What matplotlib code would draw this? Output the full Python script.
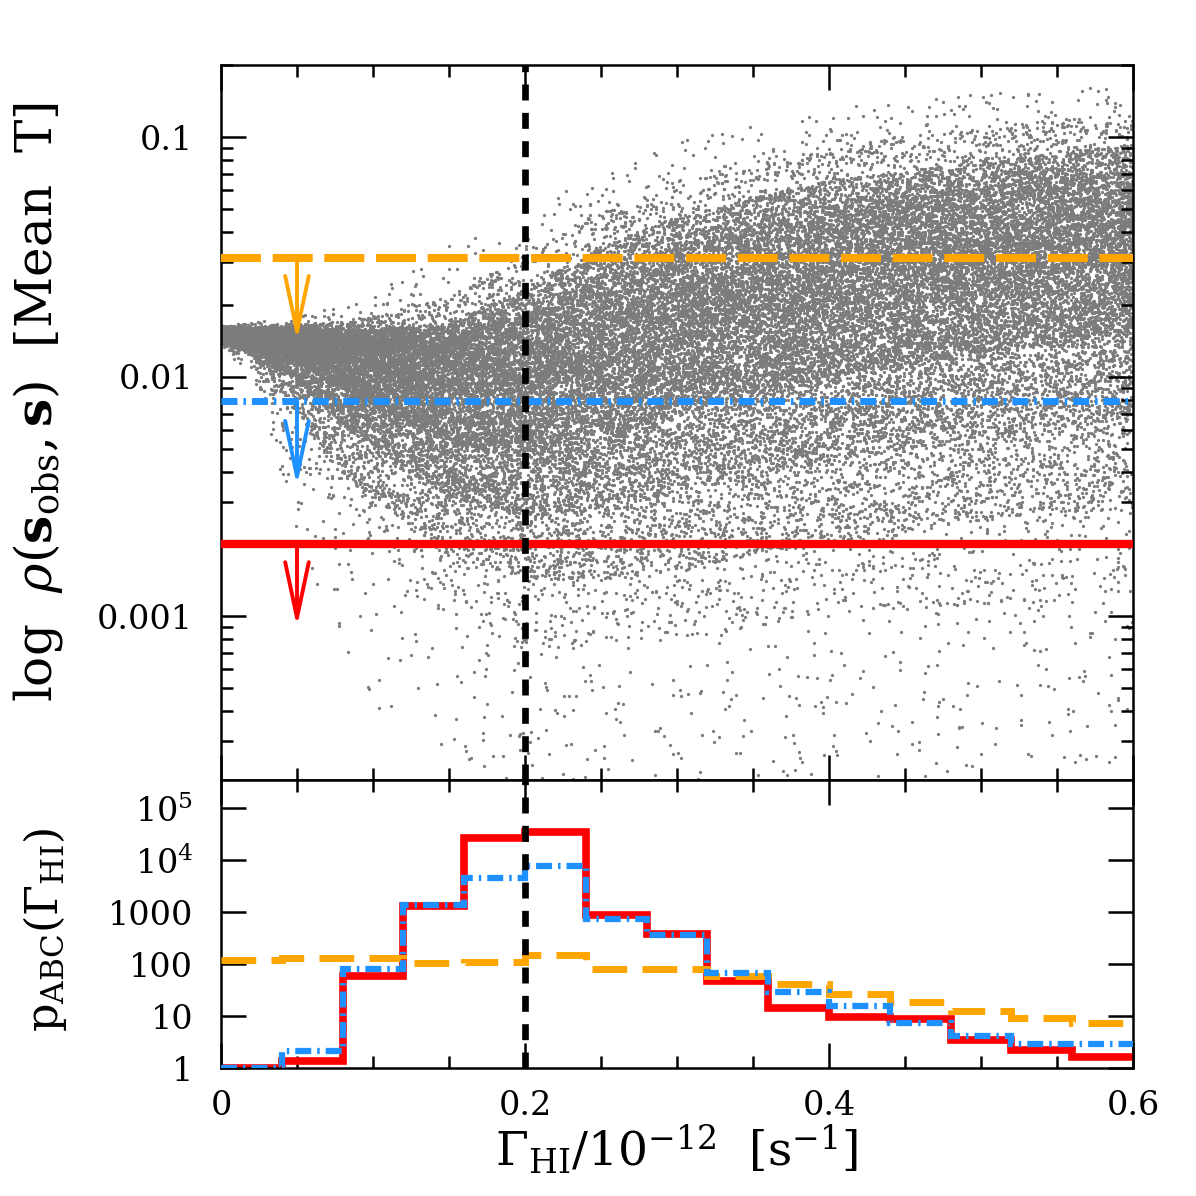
import numpy as np
import matplotlib
matplotlib.use("Agg")
import matplotlib.pyplot as plt
from matplotlib.ticker import FixedLocator, FixedFormatter, LogLocator, MultipleLocator, NullFormatter

plt.rcParams['font.family'] = 'DejaVu Serif'
plt.rcParams['mathtext.fontset'] = 'dejavuserif'
plt.rcParams['lines.scale_dashes'] = False

# ---- bottom panel: ABC posteriors, bins of 0.04 in Gamma_HI
bin_edges = [0.0, 0.04, 0.08, 0.12, 0.16, 0.20, 0.24, 0.28, 0.32, 0.36,
             0.40, 0.44, 0.48, 0.52, 0.56, 0.60]
p_red = [1.0, 1.35, 60, 1320, 26300, 34600, 870, 386, 48, 14,
         9.7, 8.7, 3.4, 2.2, 1.6]
p_blue = [1.0, 2.16, 79, 1380, 4520, 7600, 740, 357, 67, 29,
          15.6, 7.5, 4.2, 2.9, 2.9]
p_orange = [120, 133, 130, 107, 110, 147, 80, 79, 59, 41,
            27, 19, 12.7, 9.3, 7.2]

# ---- top panel: distance thresholds and arrows
eps_orange = 0.0313
eps_blue = 0.0079
eps_red = 0.002
arrow_x = 0.05
tip_orange = 0.0141
tip_blue = 0.0035
tip_red = 0.0009
gamma_true = 0.2

# ---- cloud of simulated distances: log10(rho) quantiles read per Gamma_HI column
cloud_x = [0.0, 0.02, 0.05, 0.08, 0.10, 0.15, 0.20, 0.25, 0.30, 0.40, 0.50, 0.60]
cloud_p = [0.0, 0.01, 0.03, 0.10, 0.25, 0.50, 0.75, 0.90, 0.97, 0.995, 1.0]
cloud_q = [
    [-1.87, -1.865, -1.86, -1.85, -1.838, -1.824, -1.81, -1.80, -1.795, -1.79, -1.785],
    [-2.00, -1.93, -1.90, -1.875, -1.855, -1.836, -1.818, -1.805, -1.795, -1.785, -1.775],
    [-2.70, -2.35, -2.15, -2.02, -1.94, -1.875, -1.835, -1.81, -1.795, -1.78, -1.75],
    [-3.10, -2.60, -2.40, -2.20, -2.05, -1.94, -1.86, -1.82, -1.80, -1.77, -1.70],
    [-3.40, -2.75, -2.50, -2.30, -2.12, -1.98, -1.88, -1.83, -1.80, -1.75, -1.66],
    [-3.60, -3.00, -2.75, -2.50, -2.28, -2.07, -1.92, -1.84, -1.78, -1.66, -1.45],
    [-3.72, -3.15, -2.85, -2.58, -2.33, -2.08, -1.88, -1.74, -1.63, -1.48, -1.30],
    [-3.72, -3.15, -2.85, -2.55, -2.25, -1.97, -1.74, -1.57, -1.45, -1.30, -1.15],
    [-3.72, -3.10, -2.80, -2.48, -2.15, -1.86, -1.62, -1.45, -1.33, -1.18, -1.02],
    [-3.72, -3.00, -2.70, -2.35, -2.00, -1.70, -1.46, -1.30, -1.18, -1.03, -0.88],
    [-3.65, -2.95, -2.60, -2.25, -1.90, -1.60, -1.37, -1.21, -1.10, -0.96, -0.82],
    [-3.60, -2.90, -2.55, -2.18, -1.82, -1.52, -1.30, -1.14, -1.03, -0.90, -0.78],
]
n_points = 45000


def cloud_points(n):
    # spread n points through the read quantile bands with Weyl sequences
    # (linear one for x, quadratic one for the quantile level)
    k = np.arange(1, n + 1, dtype=np.float64)
    u = (k * 0.6180339887498949) % 1.0
    v = ((k * k) % 1000003 * 0.41421356237309503 + k * 0.7548776662466927) % 1.0
    x = u * cloud_x[-1]
    qarr = np.array(cloud_q)
    parr = np.array(cloud_p)
    q = np.array([np.interp(x, cloud_x, qarr[:, i]) for i in range(len(parr))]).T
    j = np.clip(np.searchsorted(parr, v) - 1, 0, len(parr) - 2)
    t = (v - parr[j]) / (parr[j + 1] - parr[j])
    rows = np.arange(n)
    logy = q[rows, j] * (1 - t) + q[rows, j + 1] * t
    return x, 10 ** logy


orange = '#FFA500'
blue = '#1E90FF'
red = '#FF0000'

fig = plt.figure(figsize=(11.96, 11.96), dpi=100)
ax1 = fig.add_axes([0.18478, 0.34783, 0.76254, 0.59783])
ax2 = fig.add_axes([0.18478, 0.10702, 0.76254, 0.24081])

# top panel
sx, sy = cloud_points(n_points)
ax1.scatter(sx, sy, s=5.5, c='#7c7c7c', linewidths=0, zorder=1)

ax1.axhline(eps_orange, color=orange, lw=5.8, dashes=(28.8, 8.4), zorder=3)
ax1.axhline(eps_blue, color=blue, lw=5.0, dashes=(11.5, 4.3, 1.8, 4.3), zorder=3)
ax1.axhline(eps_red, color=red, lw=6.0, zorder=3)
for eps, tip, c in [(eps_orange, tip_orange, orange), (eps_blue, tip_blue, blue),
                    (eps_red, tip_red, red)]:
    ax1.annotate('', xy=(arrow_x, tip), xytext=(arrow_x, eps),
                 arrowprops=dict(arrowstyle='->,head_length=4.0,head_width=0.85',
                                 color=c, lw=2.8, shrinkA=0, shrinkB=0,
                                 mutation_scale=10), zorder=4)
ax1.axvline(gamma_true, color='k', lw=4.8, dashes=(11.5, 8.9), zorder=5)

ax1.set_xlim(0, 0.6)
ax1.set_yscale('log')
ax1.set_ylim(2.07e-4, 0.2)
ax1.yaxis.set_major_locator(FixedLocator([0.001, 0.01, 0.1]))
ax1.yaxis.set_major_formatter(FixedFormatter(['0.001', '0.01', '0.1']))
ax1.yaxis.set_minor_locator(LogLocator(base=10, subs=np.arange(2, 10)))
ax1.yaxis.set_minor_formatter(NullFormatter())
ax1.xaxis.set_major_locator(FixedLocator([0.0, 0.2, 0.4, 0.6]))
ax1.tick_params(labelbottom=False)

# bottom panel
ax2.stairs(p_red, bin_edges, baseline=None, color=red, lw=5.5, zorder=2)
ax2.stairs(p_orange, bin_edges, baseline=None, color=orange, lw=5.0,
           linestyle=(0, (25, 11)), zorder=3)
ax2.stairs(p_blue, bin_edges, baseline=None, color=blue, lw=4.5,
           linestyle=(0, (11.5, 4.3, 1.8, 4.3)), zorder=4)
ax2.axvline(gamma_true, color='k', lw=4.8, dashes=(11.5, 8.9), zorder=5)

ax2.set_xlim(0, 0.6)
ax2.set_yscale('log')
ax2.set_ylim(1, 3.5e5)
ax2.yaxis.set_major_locator(FixedLocator([1, 10, 100, 1000, 1e4, 1e5]))
ax2.yaxis.set_major_formatter(FixedFormatter(['1', '10', '100', '1000',
                                              r'$10^4$', r'$10^5$']))
ax2.yaxis.set_minor_locator(LogLocator(base=10, subs=np.arange(2, 10)))
ax2.yaxis.set_minor_formatter(NullFormatter())
ax2.xaxis.set_major_locator(FixedLocator([0.0, 0.2, 0.4, 0.6]))
ax2.xaxis.set_major_formatter(FixedFormatter(['0', '0.2', '0.4', '0.6']))

for ax in (ax1, ax2):
    ax.xaxis.set_minor_locator(MultipleLocator(0.05))
    for sp in ax.spines.values():
        sp.set_linewidth(1.8)
    ax.tick_params(which='both', direction='in', top=True, right=True, width=1.8)
    ax.tick_params(which='major', length=18, labelsize=24)
    ax.tick_params(which='minor', length=8.6)
    ax.tick_params(axis='y', which='major', pad=20)
    ax.tick_params(axis='x', which='major', pad=16)

fig.text(38 / 1196, 1 - 402 / 1196,
         r'log  $\rho(\mathbf{s}_{\rm obs},\mathbf{s})$  [Mean  T]',
         rotation=90, ha='center', va='center', fontsize=36)
fig.text(45 / 1196, 1 - 930 / 1196, r'p$_{\rm ABC}(\Gamma_{\rm HI})$',
         rotation=90, ha='center', va='center', fontsize=32)
fig.text(677 / 1196, 1 - 1150 / 1196, r'$\Gamma_{\rm HI}/10^{-12}$  [s$^{-1}$]',
         ha='center', va='center', fontsize=34)

fig.savefig('out.png', dpi=100)
